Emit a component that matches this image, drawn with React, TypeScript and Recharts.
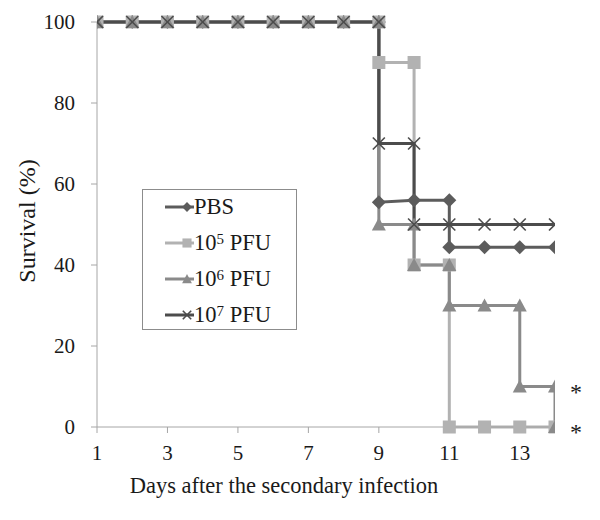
import React from 'react';
import { LineChart, Line, XAxis, YAxis, ReferenceDot } from 'recharts';

// step-style survival curves: a repeated day means a vertical drop
const pbsDays = [1, 2, 3, 4, 5, 6, 7, 8, 9, 9, 10, 11, 11, 12, 13, 14];
const pbsSurvival = [100, 100, 100, 100, 100, 100, 100, 100, 100, 55.5, 56, 56, 44.4, 44.4, 44.4, 44.4];

const pfu5Days = [1, 2, 3, 4, 5, 6, 7, 8, 9, 9, 10, 10, 11, 11, 12, 13, 14];
const pfu5Survival = [100, 100, 100, 100, 100, 100, 100, 100, 100, 90, 90, 40, 40, 0, 0, 0, 0];

const pfu6Days = [1, 2, 3, 4, 5, 6, 7, 8, 9, 9, 10, 10, 11, 11, 12, 13, 13, 14, 14];
const pfu6Survival = [100, 100, 100, 100, 100, 100, 100, 100, 100, 50, 50, 40, 40, 30, 30, 30, 10, 10, 0];

const pfu7Days = [1, 2, 3, 4, 5, 6, 7, 8, 9, 9, 10, 10, 11, 12, 13, 14];
const pfu7Survival = [100, 100, 100, 100, 100, 100, 100, 100, 100, 70, 70, 50, 50, 50, 50, 50];

const xTicks = [1, 3, 5, 7, 9, 11, 13];
const yTicks = [0, 20, 40, 60, 80, 100];
const significant = [
  { day: 14, value: 10 },
  { day: 14, value: 0 },
];

const zip = (days: number[], vals: number[]) => days.map((d, i) => ({ day: d, value: vals[i] }));

const FONT = '"Liberation Serif", "Times New Roman", serif';
const C_PBS = '#5c5c5c';
const C_5 = '#b2b2b2';
const C_6 = '#8a8a8a';
const C_7 = '#4c4c4c';

type Shape = 'diamond' | 'square' | 'triangle' | 'cross';

function Marker({ shape, cx, cy, color, s = 1 }: { shape: Shape; cx: number; cy: number; color: string; s?: number }) {
  const d = 7 * s;
  if (shape === 'diamond') {
    return <polygon points={`${cx},${cy - d} ${cx + d},${cy} ${cx},${cy + d} ${cx - d},${cy}`} fill={color} />;
  }
  if (shape === 'square') {
    const h = 6.5 * s;
    return <rect x={cx - h} y={cy - h} width={2 * h} height={2 * h} fill={color} />;
  }
  if (shape === 'triangle') {
    return <polygon points={`${cx},${cy - d} ${cx + d},${cy + 6 * s} ${cx - d},${cy + 6 * s}`} fill={color} />;
  }
  const c = 6 * s;
  return (
    <g stroke={color} strokeWidth={1.6}>
      <line x1={cx - c} y1={cy - c} x2={cx + c} y2={cy + c} />
      <line x1={cx - c} y1={cy + c} x2={cx + c} y2={cy - c} />
    </g>
  );
}

const dotFor = (shape: Shape, color: string) =>
  // eslint-disable-next-line @typescript-eslint/no-explicit-any
  (props: any) => {
    const { cx, cy, index } = props;
    if (cx == null || cy == null) return <g key={`d-${index}`} />;
    return (
      <g key={`${shape}-${index}`}>
        <Marker shape={shape} cx={cx} cy={cy} color={color} />
      </g>
    );
  };

const series = [
  { name: 'PBS', exp: '', data: zip(pbsDays, pbsSurvival), color: C_PBS, shape: 'diamond' as Shape },
  { name: 'PFU', exp: '5', data: zip(pfu5Days, pfu5Survival), color: C_5, shape: 'square' as Shape },
  { name: 'PFU', exp: '6', data: zip(pfu6Days, pfu6Survival), color: C_6, shape: 'triangle' as Shape },
  { name: 'PFU', exp: '7', data: zip(pfu7Days, pfu7Survival), color: C_7, shape: 'cross' as Shape },
];

export default function App() {
  return (
    <div style={{ position: 'absolute', left: 0, top: 0, width: 600, height: 520, background: '#fff', fontFamily: FONT }}>
      <LineChart width={600} height={520} margin={{ top: 22, right: 45, left: 0, bottom: 0 }}>
        <XAxis
          type="number"
          dataKey="day"
          domain={[1, 14]}
          ticks={xTicks}
          allowDataOverflow
          stroke="#a6a6a6"
          tickSize={6}
          tickMargin={12}
          height={93}
          tick={{ fill: '#1a1a1a', fontSize: 21, fontFamily: FONT }}
          label={{
            content: () => (
              <text x={284} y={493} textAnchor="middle" fill="#1a1a1a" fontSize={22.5} fontFamily={FONT}>
                Days after the secondary infection
              </text>
            ),
          }}
        />
        <YAxis
          type="number"
          dataKey="value"
          domain={[0, 100]}
          ticks={yTicks}
          stroke="#a6a6a6"
          tickSize={6}
          tickMargin={16}
          width={97}
          tick={{ fill: '#1a1a1a', fontSize: 21, fontFamily: FONT }}
          label={{
            content: () => (
              <text
                x={27}
                y={221}
                transform="rotate(-90 27 221)"
                textAnchor="middle"
                dominantBaseline="central"
                fill="#1a1a1a"
                fontSize={24}
                fontFamily={FONT}
              >
                Survival (%)
              </text>
            ),
          }}
        />
        {series.map((s) => (
          <Line
            key={s.name + s.exp}
            data={s.data}
            dataKey="value"
            type="linear"
            stroke={s.color}
            strokeWidth={3}
            dot={dotFor(s.shape, s.color)}
            activeDot={false}
            isAnimationActive={false}
          />
        ))}
        {significant.map((m, i) => (
          <ReferenceDot
            key={i}
            x={m.day}
            y={m.value}
            r={1}
            fill="none"
            stroke="none"
            label={{
              // eslint-disable-next-line @typescript-eslint/no-explicit-any
              content: (p: any) => (
                <text x={p.viewBox.x + 22} y={p.viewBox.y + 14} textAnchor="middle" fontSize={24} fill="#1a1a1a" fontFamily={FONT}>
                  *
                </text>
              ),
            }}
          />
        ))}
      </LineChart>
      {/* Legend */}
      <div
        style={{
          position: 'absolute',
          left: 142,
          top: 189,
          width: 155,
          height: 141,
          border: '1px solid #8c8c8c',
          boxSizing: 'border-box',
          background: '#fff',
        }}
      >
        {series.map((s, i) => (
          <div key={i} style={{ position: 'absolute', left: 22, top: 2 + i * 36, height: 30, display: 'flex', alignItems: 'center' }}>
            <svg width={29} height={20} style={{ flexShrink: 0 }}>
              <line x1={0} y1={10} x2={29} y2={10} stroke={s.color} strokeWidth={3} />
              <Marker shape={s.shape} cx={22} cy={10} color={s.color} s={0.7} />
            </svg>
            <span style={{ fontSize: 22.5, color: '#1a1a1a', whiteSpace: 'nowrap', lineHeight: '30px' }}>
              {s.exp ? (
                <>
                  10<sup style={{ fontSize: 15, verticalAlign: 'top', lineHeight: '22px' }}>{s.exp}</sup> {s.name}
                </>
              ) : (
                s.name
              )}
            </span>
          </div>
        ))}
      </div>
    </div>
  );
}
